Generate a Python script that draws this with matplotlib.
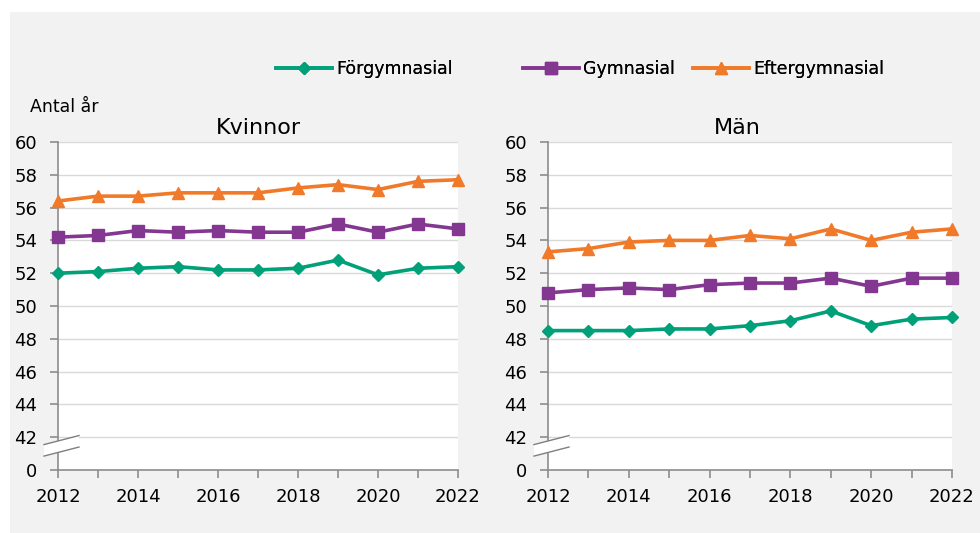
import matplotlib
matplotlib.use('Agg')
import matplotlib.pyplot as plt
import matplotlib.transforms as mtransforms
from matplotlib.patches import Rectangle, Polygon
from matplotlib.lines import Line2D

years = list(range(2012, 2023))
series_names = ['Förgymnasial', 'Gymnasial', 'Eftergymnasial']

kvinnor_forgym = [52.0, 52.1, 52.3, 52.4, 52.2, 52.2, 52.3, 52.8, 51.9, 52.3, 52.4]
kvinnor_gym = [54.2, 54.3, 54.6, 54.5, 54.6, 54.5, 54.5, 55.0, 54.5, 55.0, 54.7]
kvinnor_eftergym = [56.4, 56.7, 56.7, 56.9, 56.9, 56.9, 57.2, 57.4, 57.1, 57.6, 57.7]

man_forgym = [48.5, 48.5, 48.5, 48.6, 48.6, 48.8, 49.1, 49.7, 48.8, 49.2, 49.3]
man_gym = [50.8, 51.0, 51.1, 51.0, 51.3, 51.4, 51.4, 51.7, 51.2, 51.7, 51.7]
man_eftergym = [53.3, 53.5, 53.9, 54.0, 54.0, 54.3, 54.1, 54.7, 54.0, 54.5, 54.7]

# the "0" tick sits one step below 42 (broken axis)
ytick_vals = [40, 42, 44, 46, 48, 50, 52, 54, 56, 58, 60]
ytick_labels = ['0', '42', '44', '46', '48', '50', '52', '54', '56', '58', '60']
xtick_vals = [2012, 2014, 2016, 2018, 2020, 2022]

colors = ['#00A078', '#833790', '#F07A2A']
markers = ['D', 's', '^']
msizes = [6.5, 8, 8.5]

plt.rcParams['font.family'] = ['DejaVu Sans']

fig = plt.figure(figsize=(9.8, 5.33), dpi=100)
fig.patch.set_facecolor('white')
fig.add_artist(Rectangle((10 / 980, 0), 970 / 980, 521 / 533,
                         transform=fig.transFigure, facecolor='#f2f2f2',
                         edgecolor='none', zorder=-10))

ax1 = fig.add_axes([58 / 980, 63 / 533, 400 / 980, 328 / 533])
ax2 = fig.add_axes([548 / 980, 63 / 533, 404 / 980, 328 / 533])

panels = [
    (ax1, 'Kvinnor', 0.5, [kvinnor_forgym, kvinnor_gym, kvinnor_eftergym]),
    (ax2, 'Män', 0.468, [man_forgym, man_gym, man_eftergym]),
]

handles = []
for ax, title, tx, data in panels:
    ax.set_facecolor('white')
    for i, vals in enumerate(data):
        ln, = ax.plot(years, vals, color=colors[i], marker=markers[i],
                      markersize=msizes[i], linewidth=2.6, clip_on=False,
                      zorder=3)
        if ax is ax1:
            handles.append(ln)
    ax.set_xlim(2012, 2022)
    ax.set_ylim(40, 60)
    ax.set_yticks(ytick_vals)
    ax.set_yticklabels(ytick_labels)
    ax.set_xticks(years)
    ax.set_xticklabels([str(y) if y in xtick_vals else '' for y in years])
    for v in ytick_vals[1:]:
        ax.axhline(v, color='#d9d9d9', linewidth=1, zorder=1)
    for s in ['top', 'right']:
        ax.spines[s].set_visible(False)
    for s in ['left', 'bottom']:
        ax.spines[s].set_color('#8c8c8c')
        ax.spines[s].set_linewidth(1.2)
    ax.tick_params(axis='both', direction='out', length=6, width=1.2,
                   color='#8c8c8c', labelsize=13)
    ax.tick_params(axis='y', pad=9)
    ax.tick_params(axis='x', pad=7)
    ax.set_title(title, fontsize=16, pad=6, x=tx)

    # axis break between 0 and 42
    blend = mtransforms.blended_transform_factory(ax.transAxes, ax.transData)
    w_px = ax.get_position().width * 980
    xa = -14 / w_px
    xb = 21 / w_px
    poly = Polygon([(xa, 40.85), (xb, 41.4), (xb, 42.1), (xa, 41.55)],
                   closed=True, transform=blend, facecolor='white',
                   edgecolor='none', clip_on=False, zorder=4)
    ax.add_patch(poly)
    ax.add_line(Line2D([xa, xb], [41.55, 42.1], transform=blend,
                       color='#7f7f7f', linewidth=1, clip_on=False, zorder=5))
    ax.add_line(Line2D([xa, xb], [40.85, 41.4], transform=blend,
                       color='#7f7f7f', linewidth=1, clip_on=False, zorder=5))

fig.text(30 / 980, 1 - 107 / 533, 'Antal år', fontsize=12.5, va='center',
         ha='left')

leg_x = [276 / 980, 523 / 980, 693 / 980]
for i in range(3):
    leg = fig.legend([handles[i]], [series_names[i]], loc='center left',
                     bbox_to_anchor=(leg_x[i], 1 - 69 / 533), frameon=False,
                     fontsize=12.5, handlelength=3.2, handletextpad=0.25,
                     borderpad=0, borderaxespad=0)
    fig.add_artist(leg)

fig.savefig('out.png', dpi=100, facecolor=fig.get_facecolor())
